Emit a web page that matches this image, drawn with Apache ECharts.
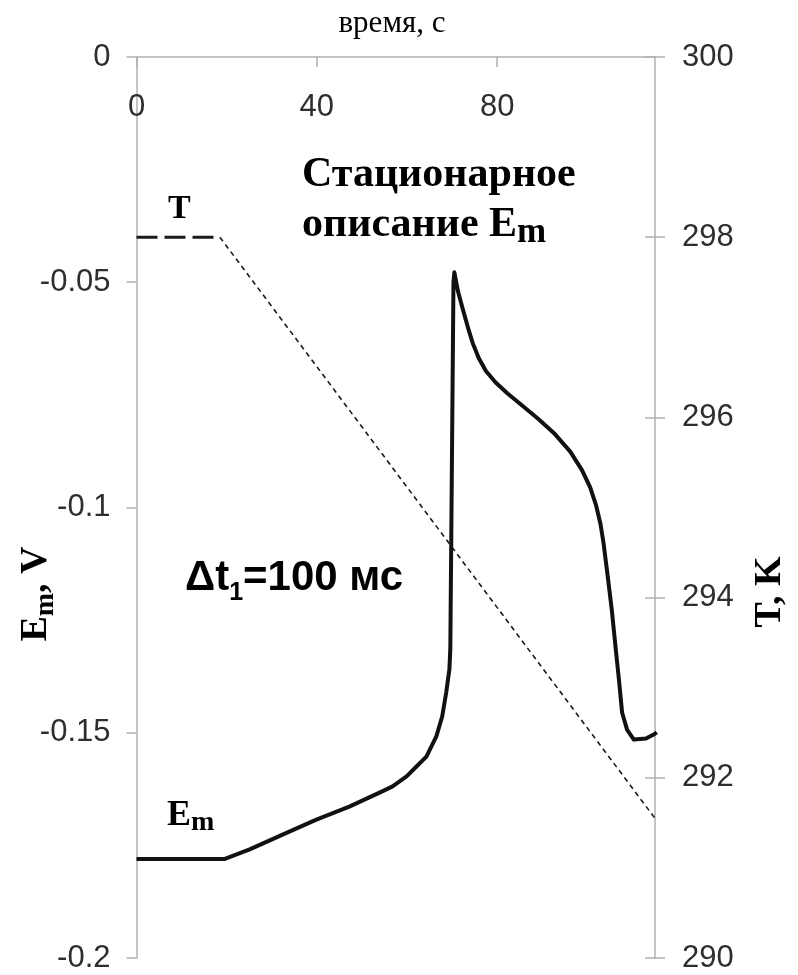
<!DOCTYPE html>
<html><head><meta charset="utf-8">
<script src="https://cdn.jsdelivr.net/npm/echarts/dist/echarts.min.js"></script>
<style>html,body{margin:0;padding:0;background:#fff}#c{width:798px;height:975px}</style>
</head><body><div id="c"></div>
<script>
// Em (membrane potential, V) vs time (s)
const emTime  = [0, 19.6, 25.1, 32.4, 39.9, 47.2, 54.5, 56.8, 59.9, 62.1, 64.3, 66.5, 67.8, 68.7, 69.4, 69.6, 70.3, 70.5,
                 71.3, 72.3, 73.5, 74.6, 75.9, 77.5, 79.6, 82.3, 85.6, 89.2, 92.8, 96.2, 98.8, 100.6, 101.9, 102.9, 103.6, 104.1,
                 104.6, 105.4, 106.3, 107.0, 107.7, 108.8, 110.3, 113.0, 114.7, 115.4];
const emValue = [-0.178, -0.178, -0.1759, -0.1726, -0.1693, -0.1664, -0.1630, -0.1619, -0.1597, -0.1575, -0.1553, -0.1508, -0.1464, -0.1410, -0.1359, -0.1315, -0.0500, -0.0478,
                 -0.0520, -0.0557, -0.0600, -0.0636, -0.0668, -0.0697, -0.0722, -0.0747, -0.0774, -0.0804, -0.0837, -0.0876, -0.0917, -0.0955, -0.0994, -0.1036, -0.1080, -0.1120,
                 -0.1160, -0.1226, -0.1315, -0.1382, -0.1455, -0.1493, -0.1515, -0.1513, -0.1504, -0.1499];
// Temperature T (K) vs time (s)
const tTime  = [0, 18.5, 115];
const tValue = [298, 298, 291.55];
// axis ranges / ticks: [min, max, interval]
const xRange = [0, 115, 40];
const emRange = [-0.2, 0, 0.05];
const tRange = [290, 300, 2];

const axisGray = '#b0b0b0';
const labelColor = '#2e2e2e';
const sans = 'Liberation Sans, Arial, sans-serif';
const serif = 'Liberation Serif, Times New Roman, serif';

const emData = emTime.map((t, i) => [t, emValue[i]]);
const tPlateau = [[tTime[0], tValue[0]], [tTime[1], tValue[1]]];
const tRamp = [[tTime[1], tValue[1]], [tTime[2], tValue[2]]];

const gridBox = {left: 136.5, right: 143, top: 57, bottom: 17, containLabel: false};
const chart = echarts.init(document.getElementById('c'), null, {renderer: 'canvas'});
chart.setOption({
  animation: false,
  backgroundColor: '#fff',
  grid: [Object.assign({}, gridBox), Object.assign({}, gridBox)],
  xAxis: [{
    type: 'value', gridIndex: 0, position: 'top', min: xRange[0], max: xRange[1], interval: xRange[2],
    axisLine: {show: true, onZero: false, lineStyle: {color: axisGray, width: 1.5}},
    axisTick: {show: true, inside: true, length: 10, lineStyle: {color: axisGray, width: 1.5}},
    axisLabel: {inside: true, margin: 35, showMaxLabel: false, color: labelColor, fontSize: 31, fontFamily: sans},
    splitLine: {show: false}
  }, {
    type: 'value', gridIndex: 1, show: false, min: xRange[0], max: xRange[1]
  }],
  yAxis: [
    {
      type: 'value', gridIndex: 0, position: 'left', min: emRange[0], max: emRange[1], interval: emRange[2],
      axisLine: {show: true, onZero: false, lineStyle: {color: axisGray, width: 1.5}},
      axisTick: {show: true, length: 10, lineStyle: {color: axisGray, width: 1.5}},
      axisLabel: {margin: 26, color: labelColor, fontSize: 31, fontFamily: sans},
      splitLine: {show: false}
    },
    {
      type: 'value', gridIndex: 0, position: 'right', min: tRange[0], max: tRange[1], interval: tRange[2],
      axisLine: {show: true, onZero: false, lineStyle: {color: axisGray, width: 1.5}},
      axisTick: {show: true, length: 10, lineStyle: {color: axisGray, width: 1.5}},
      axisLabel: {margin: 27, color: labelColor, fontSize: 31, fontFamily: sans},
      splitLine: {show: false}
    },
    {
      type: 'value', gridIndex: 1, position: 'right', min: tRange[0], max: tRange[1], interval: tRange[2],
      axisLine: {show: false, onZero: false},
      axisTick: {show: true, inside: true, length: 10, lineStyle: {color: axisGray, width: 1.5}},
      axisLabel: {show: false},
      splitLine: {show: false}
    }
  ],
  series: [
    {
      type: 'line', name: 'T plateau', xAxisIndex: 0, yAxisIndex: 1, data: tPlateau, showSymbol: false,
      lineStyle: {color: '#1a1a1a', width: 3, type: [21, 7]}
    },
    {
      type: 'line', name: 'T', xAxisIndex: 0, yAxisIndex: 1, data: tRamp, showSymbol: false,
      lineStyle: {color: '#1a1a1a', width: 1.6, type: [5, 4]}
    },
    {
      type: 'line', name: 'Em', xAxisIndex: 0, yAxisIndex: 0, data: emData, showSymbol: false, clip: false,
      lineStyle: {color: '#111', width: 4, join: 'round'}
    }
  ],
  graphic: [
    {type: 'text', x: 392, y: 23.5, style: {text: 'время, с', font: '31px ' + serif, fill: '#000', align: 'center', verticalAlign: 'middle'}},
    {type: 'text', x: 302, y: 175, style: {text: 'Стационарное', font: 'bold 42px ' + serif, fill: '#000', align: 'left', verticalAlign: 'middle'}},
    {type: 'text', x: 302, y: 225, style: {
      text: '{a|описание E}{s|m}', align: 'left', verticalAlign: 'middle',
      rich: {a: {font: 'bold 42px ' + serif, fill: '#000'}, s: {font: 'bold 35px ' + serif, fill: '#000', padding: [16, 0, 0, 0]}}
    }},
    {type: 'text', x: 185, y: 578, style: {
      text: '{a|Δt}{s|1}{a|=100 мс}', align: 'left', verticalAlign: 'middle',
      rich: {a: {font: 'bold 42px ' + sans, fill: '#000'}, s: {font: 'bold 25px ' + sans, fill: '#000', padding: [30, 0, 0, 0]}}
    }},
    {type: 'text', x: 168, y: 209, style: {text: 'T', font: 'bold 34px ' + serif, fill: '#000', align: 'left', verticalAlign: 'middle'}},
    {type: 'text', x: 167, y: 816, style: {
      text: '{a|E}{s|m}', align: 'left', verticalAlign: 'middle',
      rich: {a: {font: 'bold 36px ' + serif, fill: '#000'}, s: {font: 'bold 28px ' + serif, fill: '#000', padding: [14, 0, 0, 0]}}
    }},
    {type: 'text', x: 36.5, y: 594, rotation: Math.PI / 2, style: {
      text: '{a|E}{s|m}{a|, V}', align: 'center', verticalAlign: 'middle',
      rich: {a: {font: 'bold 38px ' + serif, fill: '#000'}, s: {font: 'bold 28px ' + serif, fill: '#000', padding: [18, 0, 0, 0]}}
    }},
    {type: 'text', x: 770, y: 592, rotation: Math.PI / 2, style: {text: 'T, K', font: 'bold 38px ' + serif, fill: '#000', align: 'center', verticalAlign: 'middle'}}
  ]
});
</script></body></html>
